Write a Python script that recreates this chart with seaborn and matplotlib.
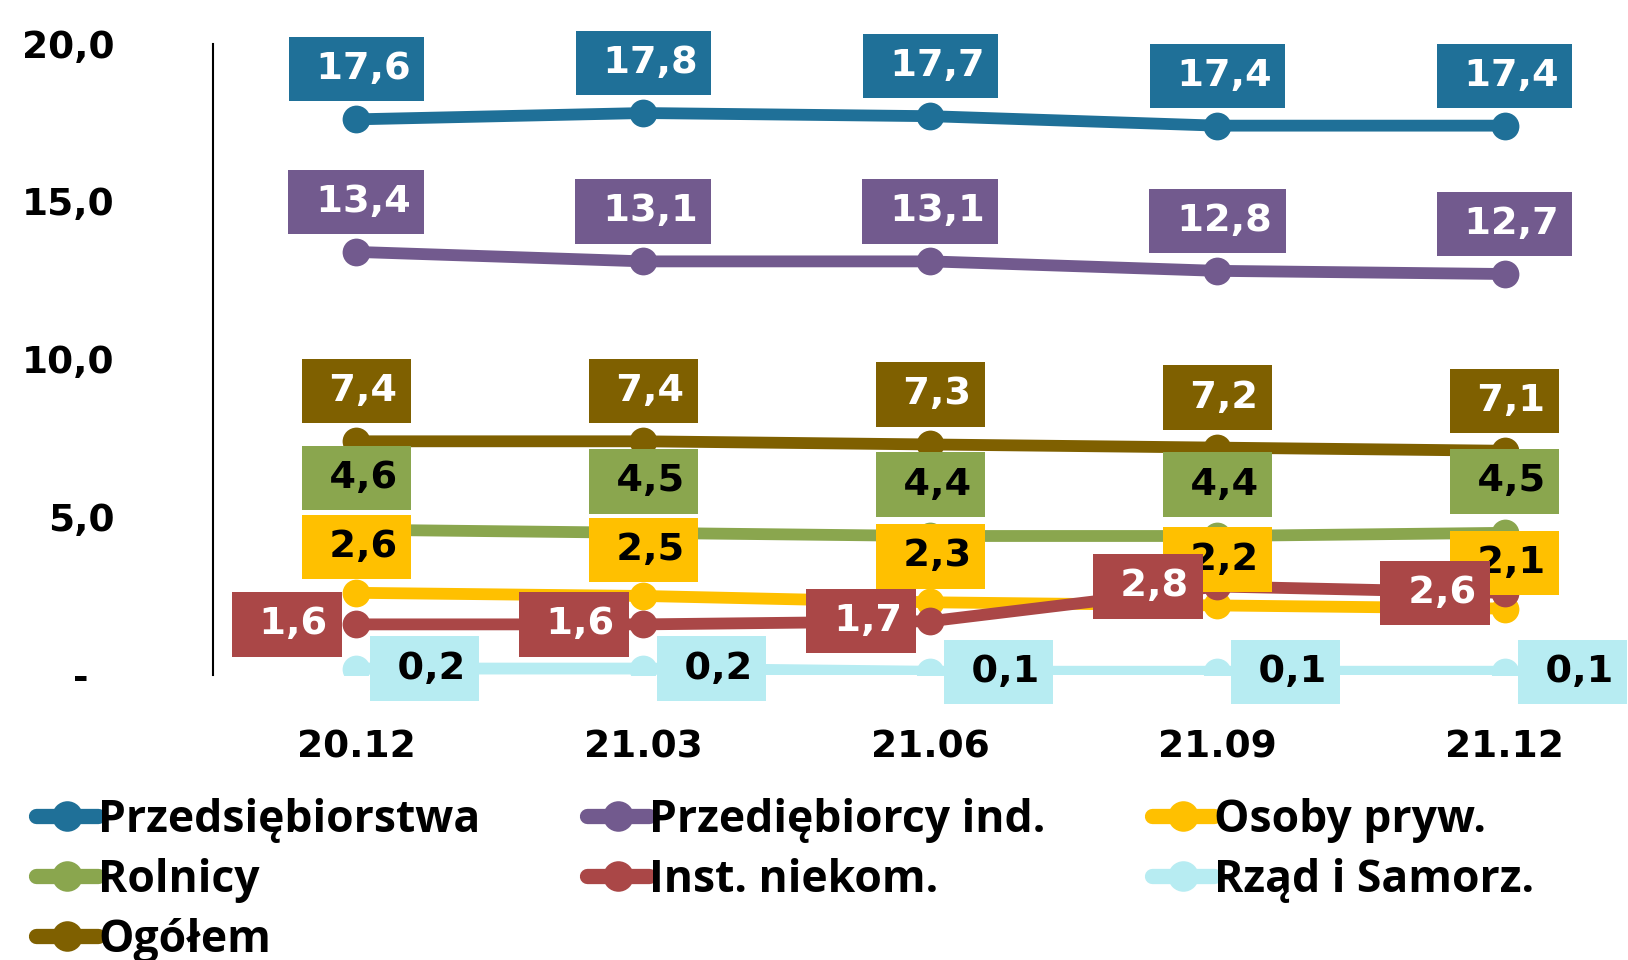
import pandas as pd
import numpy as np
import matplotlib
matplotlib.use("Agg")
import matplotlib.pyplot as plt
import seaborn as sns
from matplotlib.lines import Line2D

# dane
periods = ["20.12", "21.03", "21.06", "21.09", "21.12"]

przedsiebiorstwa = [17.6, 17.8, 17.7, 17.4, 17.4]
przedsiebiorcy_ind = [13.4, 13.1, 13.1, 12.8, 12.7]
osoby_pryw = [2.6, 2.5, 2.3, 2.2, 2.1]
rolnicy = [4.6, 4.5, 4.4, 4.4, 4.5]
inst_niekom = [1.6, 1.6, 1.7, 2.8, 2.6]
rzad_samorz = [0.2, 0.2, 0.1, 0.1, 0.1]
ogolem = [7.4, 7.4, 7.3, 7.2, 7.1]

series_names = ["Przedsiębiorstwa", "Przediębiorcy ind.", "Osoby pryw.",
                "Rolnicy", "Inst. niekom.", "Rząd i Samorz.", "Ogółem"]
series_values = [przedsiebiorstwa, przedsiebiorcy_ind, osoby_pryw,
                 rolnicy, inst_niekom, rzad_samorz, ogolem]

colors = {
    "Przedsiębiorstwa": "#1F7098",
    "Przediębiorcy ind.": "#725A8E",
    "Osoby pryw.": "#FFC000",
    "Rolnicy": "#8AA64E",
    "Inst. niekom.": "#AA4747",
    "Rząd i Samorz.": "#B7ECF2",
    "Ogółem": "#7F6000",
}
text_colors = {
    "Przedsiębiorstwa": "white",
    "Przediębiorcy ind.": "white",
    "Osoby pryw.": "black",
    "Rolnicy": "black",
    "Inst. niekom.": "white",
    "Rząd i Samorz.": "black",
    "Ogółem": "white",
}
label_offsets = {
    "Przedsiębiorstwa": (0, 36),
    "Przediębiorcy ind.": (0, 36),
    "Osoby pryw.": (0, 33),
    "Rolnicy": (0, 37),
    "Inst. niekom.": (-50, 0),
    "Rząd i Samorz.": (49, 0),
    "Ogółem": (0, 36),
}
draw_order = ["Rząd i Samorz.", "Rolnicy", "Ogółem", "Osoby pryw.",
              "Inst. niekom.", "Przediębiorcy ind.", "Przedsiębiorstwa"]

rows = []
for name, vals in zip(series_names, series_values):
    for p, v in zip(periods, vals):
        rows.append({"period": p, "series": name, "value": v})
df = pd.DataFrame(rows)

sns.set_style("white")
plt.rcParams["font.family"] = ["DejaVu Sans"]
plt.rcParams["text.color"] = "black"
plt.rcParams["xtick.color"] = "black"
plt.rcParams["ytick.color"] = "black"

fig = plt.figure(figsize=(16.28, 9.6), dpi=100)
ax = fig.add_axes([0.1308, 0.2970, 0.8815, 0.6576])

sns.lineplot(data=df, x="period", y="value", hue="series", hue_order=draw_order,
             palette=colors, marker="o", markersize=20, markeredgewidth=0,
             linewidth=8.5, legend=False, ax=ax, sort=False)

# etykiety danych
for name in draw_order:
    sub = df[df["series"] == name]
    for i, v in enumerate(sub["value"]):
        ax.annotate(" " + f"{v:.1f}".replace(".", ","), xy=(i, v),
                    xytext=label_offsets[name], textcoords="offset points",
                    ha="center", va="center", fontsize=27.5, fontweight="bold",
                    color=text_colors[name], annotation_clip=False,
                    bbox=dict(boxstyle="square,pad=0.37", fc=colors[name], ec="none"),
                    zorder=5)

ax.set_xlim(-0.5, 4.5)
ax.set_ylim(0, 20)
ax.set_yticks([0, 5, 10, 15, 20])
ax.set_yticklabels(["-  ", "5,0", "10,0", "15,0", "20,0"])
ax.tick_params(axis="y", length=0, pad=71, labelsize=27, labelcolor="black")
ax.tick_params(axis="x", length=0, pad=39, labelsize=27, labelcolor="black")
for lab in ax.get_xticklabels() + ax.get_yticklabels():
    lab.set_fontweight("bold")
ax.set_xlabel("")
ax.set_ylabel("")
for s in ["top", "right", "bottom"]:
    ax.spines[s].set_visible(False)
ax.spines["left"].set_color("black")
ax.spines["left"].set_linewidth(1.5)

# legenda (kolejność wierszami)
legend_order = ["Przedsiębiorstwa", "Rolnicy", "Ogółem",
                "Przediębiorcy ind.", "Inst. niekom.",
                "Osoby pryw.", "Rząd i Samorz."]
handles = [Line2D([0], [0], color=colors[n], lw=11, marker="o", markersize=22,
                  markeredgewidth=0) for n in legend_order]
leg = fig.legend(handles, legend_order, loc="upper left", bbox_to_anchor=(0.022, 0.169),
                 ncol=3, frameon=False, handlelength=1.4, handletextpad=0.0,
                 columnspacing=2.4, labelspacing=0.34, borderpad=0, borderaxespad=0,
                 prop={"family": "Open Sans", "weight": "bold", "size": 32})
for t in leg.get_texts():
    t.set_color("black")

fig.savefig("out.png", dpi=100)
